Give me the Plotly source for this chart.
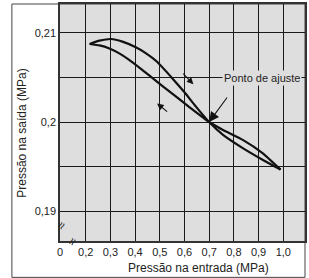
import plotly.graph_objects as go

# ---- data ----
# branch rising to a peak, then falling steeply to the set point, continuing on lower side
branch1_x = [0.216, 0.256, 0.303, 0.349, 0.403, 0.443, 0.488, 0.544, 0.600, 0.648, 0.700, 0.756, 0.836, 0.916, 0.989]
branch1_y = [0.20874, 0.20911, 0.20930, 0.20900, 0.20837, 0.20772, 0.20678, 0.20511, 0.20333, 0.20167, 0.20000, 0.19856, 0.19708, 0.19578, 0.19467]
# branch falling from start, through set point, continuing on upper side
branch2_x = [0.216, 0.256, 0.296, 0.336, 0.376, 0.416, 0.456, 0.496, 0.536, 0.616, 0.700, 0.756, 0.836, 0.916, 0.989]
branch2_y = [0.20874, 0.20858, 0.20824, 0.20769, 0.20697, 0.20613, 0.20524, 0.20436, 0.20349, 0.20176, 0.20000, 0.19911, 0.19800, 0.19652, 0.19467]

set_point_x = 0.7
set_point_y = 0.2

x_break = 0.096  # left edge, labelled "0"
x_ticks = [x_break, 0.2, 0.3, 0.4, 0.5, 0.6, 0.7, 0.8, 0.9, 1.0]
x_tick_labels = ["0", "0,2", "0,3", "0,4", "0,5", "0,6", "0,7", "0,8", "0,9", "1,0"]
y_ticks = [0.19, 0.195, 0.2, 0.205, 0.21]
y_tick_labels = ["0,19", "", "0,2", "", "0,21"]

FONT = "Liberation Sans, Arial, sans-serif"
BG = "#dedede"

fig = go.Figure()
for bx, by in [(branch1_x, branch1_y), (branch2_x, branch2_y)]:
    fig.add_trace(go.Scatter(x=bx, y=by, mode="lines",
                             line=dict(color="#111", width=2.2, shape="spline", smoothing=0.5),
                             hoverinfo="skip", showlegend=False))

fig.update_layout(
    width=309, height=278,
    margin=dict(l=60, r=2, t=3, b=37),
    paper_bgcolor="white", plot_bgcolor=BG,
    font=dict(family=FONT, size=11, color="#222"),
    showlegend=False,
)
fig.update_xaxes(range=[x_break, 1.088], tickvals=x_ticks, ticktext=x_tick_labels,
                 showgrid=True, gridcolor="#1a1a1a", gridwidth=1.2,
                 showline=True, linecolor="#333", linewidth=1.5, mirror=True,
                 ticks="", zeroline=False, tickfont=dict(size=11, color="#222"),
                 ticklabelstandoff=0)
fig.update_yaxes(range=[0.18667, 0.21322], tickvals=y_ticks, ticktext=y_tick_labels,
                 showgrid=True, gridcolor="#1a1a1a", gridwidth=1.2,
                 showline=True, linecolor="#333", linewidth=1.5, mirror=True,
                 ticks="", zeroline=False, tickfont=dict(size=11, color="#222"))

# direction arrows
fig.add_annotation(x=0.636, y=0.20422, ax=0.589, ay=0.20558, xref="x", yref="y",
                   axref="x", ayref="y", text="", showarrow=True,
                   arrowhead=2, arrowsize=1.2, arrowwidth=1.1, arrowcolor="#111")
fig.add_annotation(x=0.489, y=0.20208, ax=0.536, ay=0.20103, xref="x", yref="y",
                   axref="x", ayref="y", text="", showarrow=True,
                   arrowhead=2, arrowsize=1.2, arrowwidth=1.1, arrowcolor="#111")

# set point label
fig.add_annotation(x=0.915, y=0.20496, xref="x", yref="y", text="Ponto de ajuste",
                   showarrow=False, font=dict(size=11, color="#222"), bgcolor=BG,
                   borderpad=1)
fig.add_annotation(x=set_point_x, y=set_point_y, xref="x", yref="y", text="",
                   showarrow=True, ax=19, ay=-26, arrowhead=2, arrowsize=1.8,
                   arrowwidth=1.1, arrowcolor="#111")

# axis titles
fig.add_annotation(x=(200 - 60) / 247, y=(241 - 268) / 238, xref="paper", yref="paper",
                   text="Pressão na entrada (MPa)", showarrow=False,
                   font=dict(size=12, color="#222"), xanchor="center", yanchor="middle")
fig.add_annotation(x=(22 - 60) / 247, y=(241 - 133) / 238, xref="paper", yref="paper",
                   text="Pressão na saída (MPa)", showarrow=False, textangle=-90,
                   font=dict(size=12, color="#222"), xanchor="center", yanchor="middle")

# axis break marks
fig.add_annotation(x=(61 - 60) / 247, y=(241 - 225) / 238, xref="paper", yref="paper",
                   text="≈", showarrow=False, textangle=-60,
                   font=dict(size=13, color="#222"), xanchor="center", yanchor="middle")
fig.add_annotation(x=(72 - 60) / 247, y=(241 - 241) / 238, xref="paper", yref="paper",
                   text="≈", showarrow=False, textangle=-60,
                   font=dict(size=13, color="#222"), xanchor="center", yanchor="middle")

# outer frame
fig.add_shape(type="rect", xref="paper", yref="paper",
              x0=(11.5 - 60) / 247, x1=1.0, y0=(241 - 277.5) / 238, y1=1.0,
              line=dict(color="#444", width=1), fillcolor="rgba(0,0,0,0)", layer="below")

fig.write_html("out.html", config={"displayModeBar": False},
               post_script="document.body.style.margin='0';document.body.style.overflow='hidden';")
